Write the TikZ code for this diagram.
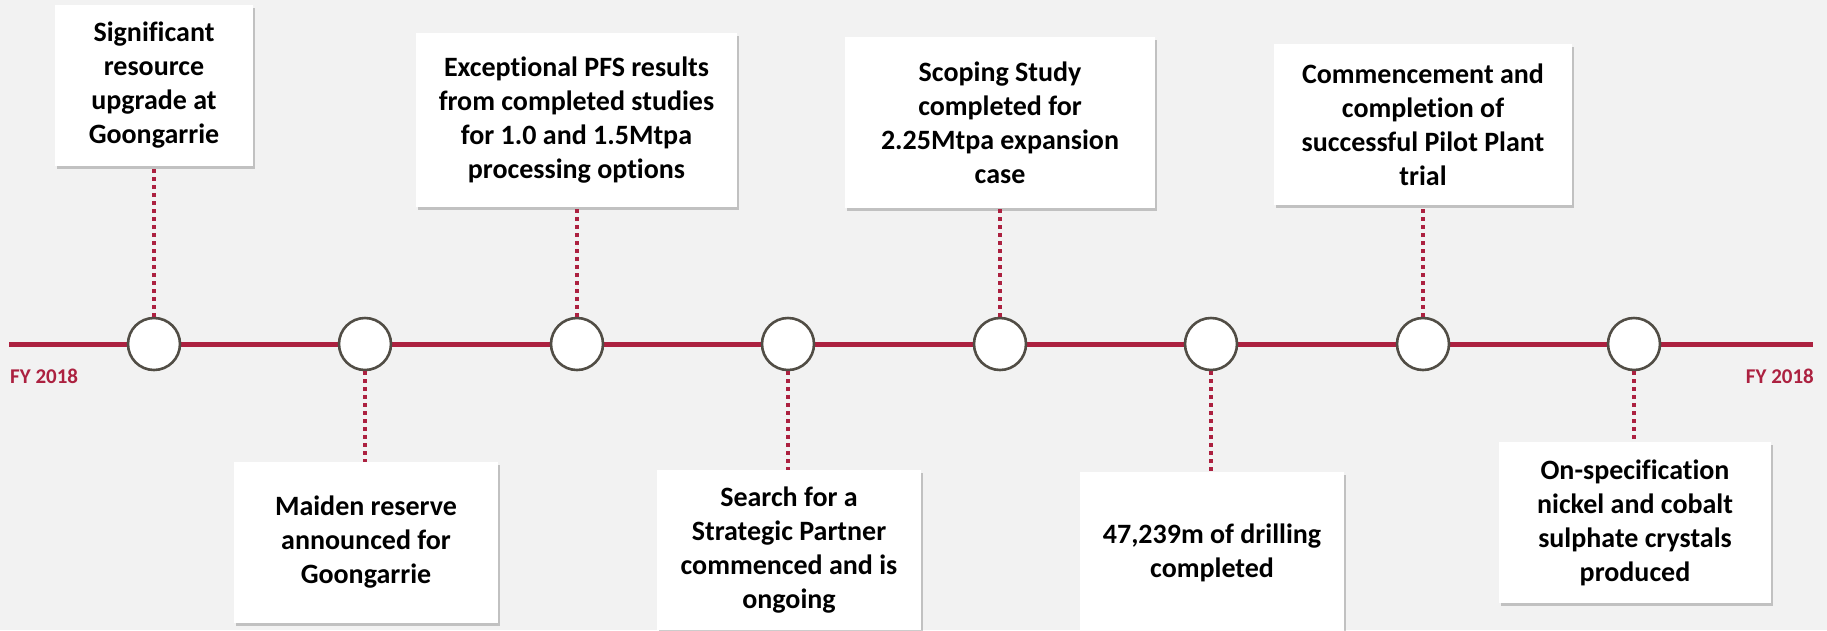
\documentclass[tikz,border=0pt]{standalone}
\usepackage{fontspec}
\setmainfont{Carlito}[Ligatures={NoCommon}]
\usetikzlibrary{shadows}
\definecolor{bg}{HTML}{F2F2F2}
\definecolor{tlred}{RGB}{172,33,64}
\definecolor{ringgray}{HTML}{514D45}
\tikzset{
  evbox/.style={fill=white, inner sep=0pt, align=center,
    font=\fontsize{28}{34}\selectfont\bfseries,
    drop shadow={shadow xshift=1.5pt, shadow yshift=-3pt, fill=black, opacity=0.2}},
  ring/.style={circle, draw=ringgray, line width=2.6pt, fill=white, minimum size=52pt, inner sep=0pt},
  mainline/.style={draw=tlred, line width=5pt},
  dotline/.style={draw=tlred, line width=3.5pt, dash pattern=on 4pt off 4pt},
  fylabel/.style={text=tlred, font=\fontsize{21}{24}\selectfont\bfseries, inner sep=0pt}
}
\begin{document}
\begin{tikzpicture}[x=1pt, y=-1pt]
\useasboundingbox (0,0) rectangle (1827,630);
\clip (0,0) rectangle (1827,630);
\fill[bg] (0,0) rectangle (1827,630);

% main line
\coordinate (L) at (9,344);
\coordinate (R) at (1813,344);
\draw[mainline] (L) -- (R);

% milestones
\node[ring] (c1) at (154,344) {};
\node[ring] (c2) at (365,344) {};
\node[ring] (c3) at (577,344) {};
\node[ring] (c4) at (788,344) {};
\node[ring] (c5) at (1000,344) {};
\node[ring] (c6) at (1211,344) {};
\node[ring] (c7) at (1423,344) {};
\node[ring] (c8) at (1634,344) {};

% boxes
\node[evbox, minimum width=198pt, minimum height=161pt] (b1) at (154,85.5)
  {Significant\\resource\\upgrade at\\Goongarrie};
\node[evbox, minimum width=264pt, minimum height=161pt] (b2) at (366,542.5)
  {Maiden reserve\\announced for\\Goongarrie};
\node[evbox, minimum width=321pt, minimum height=174pt] (b3) at (576.5,120)
  {Exceptional PFS results\\from completed studies\\for 1.0 and 1.5Mtpa\\processing options};
\node[evbox, minimum width=264pt, minimum height=160pt] (b4) at (789,550)
  {Search for a\\Strategic Partner\\commenced and is\\ongoing};
\node[evbox, minimum width=310pt, minimum height=171pt] (b5) at (1000,122.5)
  {Scoping Study\\completed for\\2.25Mtpa expansion\\case};
\node[evbox, minimum width=264pt, minimum height=161pt] (b6) at (1212,552.5)
  {47,239m of drilling\\completed};
\node[evbox, minimum width=298pt, minimum height=161pt] (b7) at (1423,124.5)
  {Commencement and\\completion of\\successful Pilot Plant\\trial};
\node[evbox, minimum width=272pt, minimum height=161pt] (b8) at (1635,522.5)
  {On-specification\\nickel and cobalt\\sulphate crystals\\produced};

% connectors
\draw[dotline] (c1.north) -- (c1.north |- b1.south);
\draw[dotline] (c2.south) -- (c2.south |- b2.north);
\draw[dotline] (c3.north) -- (c3.north |- b3.south);
\draw[dotline] (c4.south) -- (c4.south |- b4.north);
\draw[dotline] (c5.north) -- (c5.north |- b5.south);
\draw[dotline] (c6.south) -- (c6.south |- b6.north);
\draw[dotline] (c7.north) -- (c7.north |- b7.south);
\draw[dotline] (c8.south) -- (c8.south |- b8.north);

% FY labels
\node[fylabel, anchor=base west] (fyl) at (10,383) {FY 2018};
\node[fylabel, anchor=base east] (fyr) at (1814,383) {FY 2018};
\end{tikzpicture}
\end{document}
